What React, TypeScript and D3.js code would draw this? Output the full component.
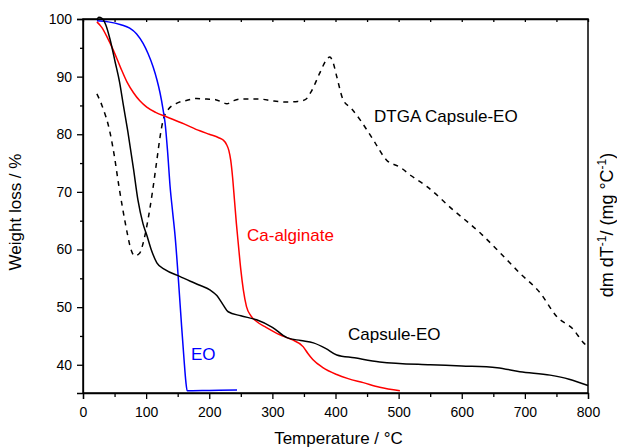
import React, { useEffect, useRef } from "react";
import * as d3 from "d3";

// temperature (°C) / weight (%) pairs
const capsuleEO: [number, number][] = [
  [22, 99.8], [25, 100.3], [30, 100.1], [36, 99], [43, 96.4], [51, 92.5], [58, 89], [64, 85],
  [71, 80.5], [80, 74], [87, 68.6], [95, 64.5], [101, 62.5], [108, 60], [117, 57.7], [130, 56.5],
  [154, 55.3], [170, 54.5], [185, 53.8], [201, 53.0], [212, 52], [222, 50.4], [230, 49.2],
  [250, 48.5], [275, 47.8], [300, 46.5], [323, 44.7], [345, 44.2], [365, 43.8], [385, 42.8],
  [402, 41.7], [430, 41.2], [470, 40.5], [550, 40.0], [600, 39.8], [656, 39.5], [692, 38.8],
  [740, 38.2], [770, 37.5], [800, 36.4],
];

const caAlginate: [number, number][] = [
  [22, 99.5], [30, 98.5], [38, 96.9], [48, 94.6], [59, 91.7], [70, 89], [80, 87.2], [90, 85.8],
  [101, 84.7], [115, 83.8], [133, 83.0], [160, 81.8], [185, 80.6], [200, 80.0], [215, 79.4],
  [222, 79.0], [227, 78.3], [231, 77.2], [234, 75.5], [237, 72.5], [240, 68.5], [243, 64.5],
  [246, 61], [250, 56.5], [254, 53], [259, 50.1], [266, 48.5], [275, 47.5], [290, 46.5],
  [312, 45.2], [330, 44.4], [349, 43.1], [356, 42], [364, 40.9], [380, 39.5], [402, 38.3],
  [420, 37.6], [444, 36.9], [470, 36.1], [502, 35.5],
];

const eo: [number, number][] = [
  [22, 99.7], [40, 99.5], [60, 99], [74, 98.4], [85, 97.4], [95, 95.8], [103, 94], [111, 91.7],
  [117, 89.5], [122, 87.2], [127, 84.2], [130, 82], [134, 77], [138, 70.9], [142, 66.5],
  [146, 62.2], [151, 55], [156, 47], [160, 41], [163, 37], [165, 35.5], [170, 35.5],
  [200, 35.55], [244, 35.6],
];

// DTGA, right axis (drawn on same pixel range)
const dtga: [number, number][] = [
  [22, 87], [30, 85], [43, 80.2], [50, 76], [56, 71.6], [63, 67], [70, 62.9], [76, 60],
  [82, 58.9], [90, 59.4], [95, 61], [101, 64], [110, 70], [117, 75.5], [122, 79.5], [127, 82.5],
  [135, 84.3], [149, 85.4], [165, 85.9], [180, 86.2], [196, 86.1], [210, 86], [220, 85.6],
  [228, 85.3], [238, 85.8], [249, 86.1], [280, 86.1], [300, 85.8], [323, 85.6], [340, 85.7],
  [352, 86], [362, 87.5], [375, 90.6], [385, 92.8], [391, 93.4], [396, 92.5], [402, 90],
  [412, 86], [425, 84.5], [439, 82.5], [460, 79], [481, 75.5], [502, 74.3], [520, 72.8],
  [545, 70.9], [586, 66.9], [629, 62.9], [661, 59.4], [692, 55.9], [724, 52.5], [751, 48.3],
  [777, 46.1], [793, 43.8], [800, 43.1],
];

const xTicks = [0, 100, 200, 300, 400, 500, 600, 700, 800];
const xMinor = [50, 150, 250, 350, 450, 550, 650, 750];
const yTicks = [40, 50, 60, 70, 80, 90, 100];
const yMinor = [45, 55, 65, 75, 85, 95];

const FONT = "'Liberation Sans', Arial, sans-serif";

function TgaChart() {
  const ref = useRef<SVGSVGElement>(null);

  useEffect(() => {
    const width = 617;
    const height = 448;
    const margin = { top: 19, left: 83, bottom: 55, right: 29 };

    const x = d3.scaleLinear().domain([0, 800]).range([margin.left, width - margin.right]);
    const y = d3.scaleLinear().domain([35.1, 100]).range([height - margin.bottom, margin.top]);
    const yRight = d3.scaleLinear().domain([35.1, 100]).range([height - margin.bottom, margin.top]);

    const svg = d3.select(ref.current);
    svg.selectAll("*").remove();

    const bottom = height - margin.bottom;

    // bottom axis
    const gx = svg.append("g").attr("transform", `translate(0, ${bottom})`);
    gx.call(d3.axisBottom(x).tickValues(xTicks).tickSize(6).tickPadding(8).tickFormat(d3.format("d")));
    gx.append("g").call(d3.axisBottom(x).tickValues(xMinor).tickSize(4).tickFormat(() => ""))
      .call(g => g.select(".domain").remove());

    // left axis
    const gy = svg.append("g").attr("transform", `translate(${margin.left}, 0)`);
    gy.call(d3.axisLeft(y).tickValues(yTicks).tickSize(6).tickPadding(5).tickFormat(d3.format("d")));
    gy.append("g").call(d3.axisLeft(y).tickValues(yMinor).tickSize(3).tickFormat(() => ""))
      .call(g => g.select(".domain").remove());

    // top axis, inward ticks
    svg.append("g").attr("transform", `translate(0, ${margin.top})`)
      .call(d3.axisBottom(x).tickValues([...xTicks, ...xMinor]).tickSize(3).tickSizeOuter(0).tickFormat(() => ""));

    svg.selectAll(".tick text").attr("font-family", FONT).attr("font-size", 14).attr("fill", "#000");
    svg.selectAll(".domain, .tick line").attr("stroke", "#000").attr("stroke-width", 1.3);

    // frame
    svg.append("rect")
      .attr("x", margin.left).attr("y", margin.top)
      .attr("width", width - margin.left - margin.right)
      .attr("height", bottom - margin.top)
      .attr("fill", "none").attr("stroke", "#000").attr("stroke-width", 1.5);

    const line = d3.line<[number, number]>().x(d => x(d[0])).y(d => y(d[1])).curve(d3.curveMonotoneX);
    const lineR = d3.line<[number, number]>().x(d => x(d[0])).y(d => yRight(d[1])).curve(d3.curveMonotoneX);

    svg.append("path").attr("d", lineR(dtga)).attr("fill", "none").attr("stroke", "#000")
      .attr("stroke-width", 1.5).attr("stroke-dasharray", "5,5");
    svg.append("path").attr("d", line(eo)).attr("fill", "none").attr("stroke", "#0000ff").attr("stroke-width", 1.5);
    svg.append("path").attr("d", line(caAlginate)).attr("fill", "none").attr("stroke", "#ff0000").attr("stroke-width", 1.5);
    svg.append("path").attr("d", line(capsuleEO)).attr("fill", "none").attr("stroke", "#000").attr("stroke-width", 1.5);

    const label = (t: string, lx: number, ly: number, color: string) =>
      svg.append("text").attr("x", lx).attr("y", ly).attr("fill", color)
        .attr("font-family", FONT).attr("font-size", 17).text(t);

    label("DTGA Capsule-EO", 374, 122, "#000");
    label("Ca-alginate", 247, 241, "#ff0000");
    label("Capsule-EO", 348, 340, "#000");
    label("EO", 191, 360, "#0000ff");

    // axis titles
    svg.append("text").attr("x", (margin.left + width - margin.right) / 2 + 3).attr("y", 444)
      .attr("text-anchor", "middle").attr("font-family", FONT).attr("font-size", 17)
      .text("Temperature / °C");

    svg.append("text").attr("transform", `translate(21, 212) rotate(-90)`)
      .attr("text-anchor", "middle").attr("font-family", FONT).attr("font-size", 17)
      .text("Weight loss / %");

    const rt = svg.append("text").attr("transform", `translate(613, 225) rotate(-90)`)
      .attr("text-anchor", "middle").attr("font-family", FONT).attr("font-size", 18);
    rt.append("tspan").text("dm dT");
    rt.append("tspan").attr("font-size", 12).attr("dy", -7).text("-1");
    rt.append("tspan").attr("dy", 7).text("/ (mg °C");
    rt.append("tspan").attr("font-size", 12).attr("dy", -7).text("-1");
    rt.append("tspan").attr("dy", 7).text(")");
  }, []);

  return (
    <svg ref={ref} width={617} height={448}
      style={{ position: "absolute", left: 0, top: 0, background: "#fff" }} />
  );
}

export default function App() {
  return <TgaChart />;
}
